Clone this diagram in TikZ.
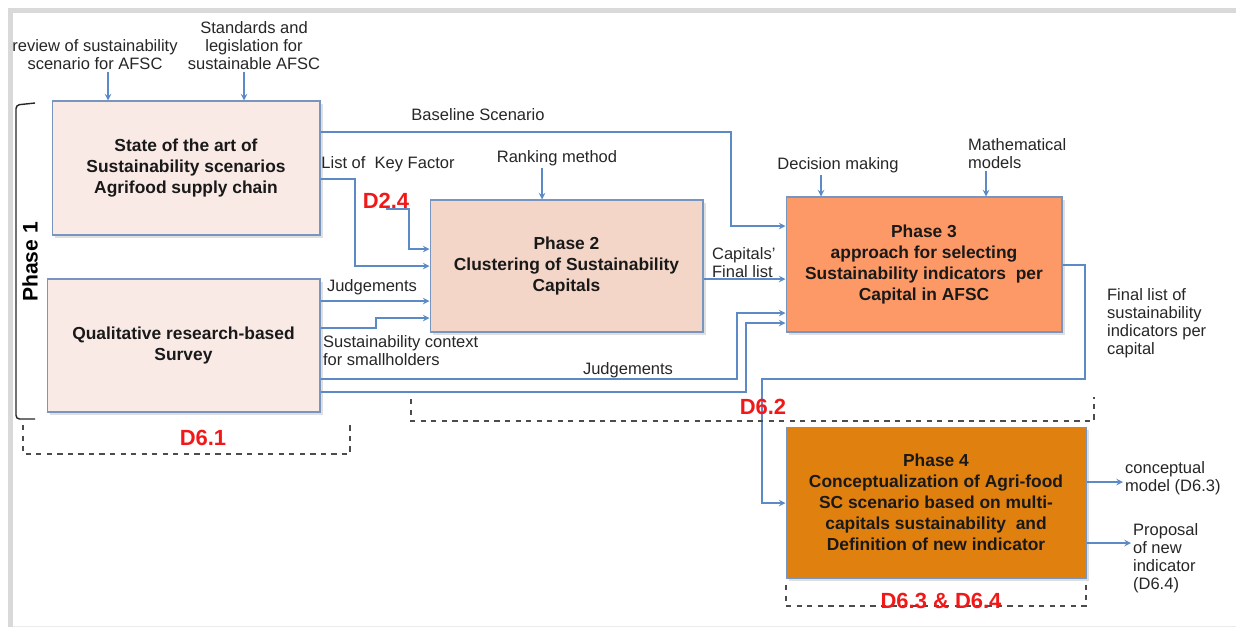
\documentclass[tikz,border=0pt]{standalone}
\usepackage{fontspec}
\setmainfont{Liberation Sans}
\usetikzlibrary{arrows,positioning,shadows}
\definecolor{lineB}{HTML}{5B8AC7}
\definecolor{edgeB}{HTML}{7895C0}
\definecolor{pinkF}{HTML}{F9EAE6}
\definecolor{peachF}{HTML}{F3D6C8}
\definecolor{salmonF}{HTML}{FC9966}
\definecolor{orangeF}{HTML}{E0800F}
\definecolor{redD}{HTML}{F01818}
\tikzstyle{recNode} = [rectangle, align=center, draw=edgeB, line width=0.6pt, font=\fontsize{9.9}{11.9}\selectfont\bfseries, text=black!90, drop shadow={opacity=0.25, shadow xshift=1.5pt, shadow yshift=-1.5pt}]
\tikzstyle{eNode} = [align=center, inner sep=1pt, font=\fontsize{9.4}{10.2}\selectfont, text=black!85]
\tikzstyle{eNodeL} = [eNode, align=left, anchor=west]
\tikzstyle{dNode} = [inner sep=0pt, font=\fontsize{12.5}{14}\selectfont\bfseries, text=redD]
\tikzstyle{arrowB} = [->,>=stealth,draw=lineB,line width=0.7pt]
\tikzstyle{dashB} = [dashed,draw=black!70,line width=0.6pt]

\begin{document}
\begin{tikzpicture}[x=0.02cm,y=-0.02cm]
        \useasboundingbox (0,0) rectangle (1236,627);
        % screenshot frame
        \fill[black!15] (8,8) rectangle (1236,13);
        \fill[black!15] (8,8) rectangle (13,627);
        \draw[black!8] (13,626) -- (1236,626);

        \node (sa) [recNode, fill=pinkF, minimum width=5.36cm, minimum height=2.68cm] at (186,168) {State of the art of\\Sustainability scenarios\\Agrifood supply chain};
        \node (qs) [recNode, fill=pinkF, minimum width=5.46cm, minimum height=2.66cm] at (183.5,345.5) {Qualitative research-based\\Survey};
        \node (p2) [recNode, fill=peachF, minimum width=5.46cm, minimum height=2.64cm] at (566.5,266) {Phase 2\\Clustering of Sustainability\\Capitals};
        \node (p3) [recNode, fill=salmonF, minimum width=5.52cm, minimum height=2.7cm] at (924,264.5) {Phase 3\\approach for selecting\\Sustainability indicators~ per\\Capital in AFSC};
        \node (p4) [recNode, fill=orangeF, minimum width=6cm, minimum height=3.02cm] at (936,502.5) {Phase 4\\Conceptualization of Agri-food\\SC scenario based on multi-\\capitals sustainability~ and\\Definition of new indicator};

        % inputs from above
        \node (rev) [eNode] at (95,55) {review of sustainability\\scenario for AFSC};
        \node (std) [eNode] at (254,46) {Standards and\\legislation for\\sustainable AFSC};
        \node (rank) [eNode] at (557,158) {Ranking method};
        \node (dec) [eNode] at (838,165) {Decision making};
        \node (mat) [eNodeL] at (966,154) {Mathematical\\models};

        \draw [arrowB] (rev.south -| 108,0) -- (sa.north -| 108,0);
        \draw [arrowB] (std.south -| 244,0) -- (sa.north -| 244,0);
        \draw [arrowB] (rank.south -| 542,0) -- (p2.north -| 542,0);
        \draw [arrowB] (dec.south -| 821,0) -- (p3.north -| 821,0);
        \draw [arrowB] (mat.south -| 986,0) -- (p3.north -| 986,0);

        % flows between phases
        \node (bl) [eNode] at (478,115) {Baseline Scenario};
        \draw [arrowB] (sa.east |- 0,132) -| (731,226) -- (p3.west |- 0,226);
        \node (kf) [eNode] at (388,164) {List of~ Key Factor};
        \draw [arrowB] (sa.east |- 0,179) -| (355,266) -- (p2.west |- 0,266);
        \node (d24) [dNode] at (386,201) {D2.4};
        \draw [arrowB] (d24.south) -| (409,249) -- (p2.west |- 0,249);

        \node (jd1) [eNode] at (372,287) {Judgements};
        \draw [arrowB] (qs.east |- 0,301) -- (p2.west |- 0,301);
        \node (sc) [eNodeL] at (321,351) {Sustainability context\\for smallholders};
        \draw [arrowB] (qs.east |- 0,328) -| (376,318) -- (p2.west |- 0,318);

        \node (cf) [eNodeL] at (710,263) {Capitals'\\Final list};
        \draw [arrowB] (p2.east |- 0,279) -- (p3.west |- 0,279);

        \node (jd2) [eNode] at (628,370) {Judgements};
        \draw [arrowB] (qs.east |- 0,379) -| (737,313) -- (p3.west |- 0,313);
        \draw [arrowB] (qs.east |- 0,392) -| (746,323) -- (p3.west |- 0,323);

        \node (fl) [eNodeL] at (1105,323) {Final list of\\sustainability\\indicators per\\capital};
        \draw [arrowB] (p3.east |- 0,265) -| (1085,379) -| (762,503) -- (p4.west |- 0,503);

        % outputs
        \node (cm) [eNodeL] at (1123,478) {conceptual\\model (D6.3)};
        \draw [arrowB] (p4.east |- 0,482) -- (cm.west |- 0,482);
        \node (pn) [eNodeL] at (1131,558) {Proposal\\of new\\indicator\\(D6.4)};
        \draw [arrowB] (p4.east |- 0,543) -- (pn.west |- 0,543);

        % phase 1 bracket
        \draw [black!85, line width=0.8pt, rounded corners=2pt] (35,103) -- (16,105) -- (16,419) -- (35,419);
        \node (ph1) [rotate=90, font=\fontsize{12}{14}\selectfont\bfseries] at (30,262) {Phase 1};

        % deliverables
        \draw [dashB] (23,425) |- (350,454) -- (350,425);
        \node (d61) [dNode] at (203,438) {D6.1};
        \draw [dashB] (411,399) |- (1094,421) -- (1094,397);
        \node (d62) [dNode] at (763,407) {D6.2};
        \draw [dashB] (786,585) |- (1086,606) -- (1086,585);
        \node (d634) [dNode] at (941,601) {D6.3 \& D6.4};
    \end{tikzpicture}
\end{document}
